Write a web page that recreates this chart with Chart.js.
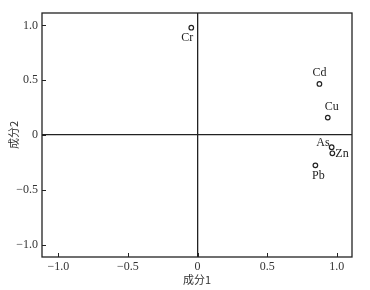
<!DOCTYPE html>
<html>
<head>
<meta charset="utf-8">
<script src="https://cdn.jsdelivr.net/npm/chart.js@4/dist/chart.umd.min.js"></script>
<style>
  html, body { margin: 0; padding: 0; background: #fff; }
  #wrap { width: 370px; height: 290px; }
</style>
</head>
<body>
<div id="wrap"><canvas id="pcaChart"></canvas></div>
<script>
// 元素名称 与 成分载荷
const elements = ['Cr', 'Cd', 'Cu', 'As', 'Zn', 'Pb'];
const comp1 = [-0.045, 0.875, 0.935, 0.963, 0.968, 0.846];
const comp2 = [0.98, 0.466, 0.159, -0.112, -0.167, -0.277];
const tickValues = [-1.0, -0.5, 0, 0.5, 1.0];
const tickLabels = ['\u22121.0', '\u22120.5', '0', '0.5', '1.0'];

const serif = "'Liberation Serif', 'Times New Roman', serif";
const cjk = "'Noto Sans CJK SC', sans-serif";

// label offset from point (dx, dy, align)
const labelPos = {
    Cr: [-4, 10, 'center'],
    Cd: [0, -11, 'center'],
    Cu: [4, -11, 'center'],
    As: [-2, -4, 'right'],
    Zn: [3, 1, 'left'],
    Pb: [3, 11, 'center']
};

const points = elements.map((e, i) => ({ x: comp1[i], y: comp2[i] }));

// 边框、内向刻度、点标签
const decorPlugin = {
    id: 'decor',
    afterDatasetsDraw(chart) {
        const ctx = chart.ctx;
        const a = chart.chartArea;
        const xs = chart.scales.x, ys = chart.scales.y;
        ctx.save();
        ctx.strokeStyle = '#222';
        ctx.lineWidth = 1.3;
        ctx.strokeRect(a.left, a.top, a.right - a.left, a.bottom - a.top);
        ctx.lineWidth = 1;
        tickValues.forEach(v => {
            const px = Math.round(xs.getPixelForValue(v)) + 0.5;
            ctx.beginPath();
            ctx.moveTo(px, a.bottom);
            ctx.lineTo(px, a.bottom - 4);
            ctx.stroke();
            const py = Math.round(ys.getPixelForValue(v)) + 0.5;
            ctx.beginPath();
            ctx.moveTo(a.left, py);
            ctx.lineTo(a.left + 4, py);
            ctx.stroke();
        });
        ctx.fillStyle = '#222';
        ctx.font = '12px ' + serif;
        ctx.textBaseline = 'middle';
        const meta = chart.getDatasetMeta(0);
        meta.data.forEach((pt, i) => {
            const p = labelPos[elements[i]];
            ctx.textAlign = p[2];
            ctx.fillText(elements[i], pt.x + p[0], pt.y + p[1]);
        });
        ctx.restore();
    }
};

new Chart(document.getElementById('pcaChart'), {
    type: 'scatter',
    data: {
        datasets: [{
            data: points,
            pointStyle: 'circle',
            pointRadius: 2.3,
            pointBorderWidth: 1.2,
            pointBorderColor: '#222',
            pointBackgroundColor: '#fff'
        }]
    },
    options: {
        responsive: true,
        maintainAspectRatio: false,
        animation: false,
        layout: { padding: { left: 0, right: 18, top: 13, bottom: 0 } },
        plugins: {
            legend: { display: false },
            tooltip: { enabled: false }
        },
        scales: {
            x: {
                min: -1.117,
                max: 1.109,
                afterBuildTicks(scale) { scale.ticks = tickValues.map(v => ({ value: v })); },
                afterFit(scale) { scale.height = 33; },
                border: { display: false },
                grid: {
                    drawTicks: false,
                    color: c => (c.tick && c.tick.value === 0) ? '#222' : 'rgba(0,0,0,0)',
                    lineWidth: 1.3
                },
                ticks: {
                    padding: 3,
                    color: '#333',
                    font: { family: serif, size: 12 },
                    callback: (v) => tickLabels[tickValues.indexOf(v)]
                },
                title: {
                    display: true,
                    text: '成分1',
                    color: '#333',
                    font: { family: cjk, size: 11 },
                    padding: { top: 0, bottom: 4 }
                }
            },
            y: {
                min: -1.114,
                max: 1.114,
                afterBuildTicks(scale) { scale.ticks = tickValues.map(v => ({ value: v })); },
                afterFit(scale) { scale.width = 42; },
                border: { display: false },
                grid: {
                    drawTicks: false,
                    color: c => (c.tick && c.tick.value === 0) ? '#222' : 'rgba(0,0,0,0)',
                    lineWidth: 1.3
                },
                ticks: {
                    padding: 4,
                    color: '#333',
                    font: { family: serif, size: 12 },
                    callback: (v) => tickLabels[tickValues.indexOf(v)]
                },
                title: {
                    display: true,
                    text: '成分2',
                    color: '#333',
                    font: { family: cjk, size: 11 },
                    padding: { top: 7, bottom: 0 }
                }
            }
        }
    },
    plugins: [decorPlugin]
});
</script>
</body>
</html>
